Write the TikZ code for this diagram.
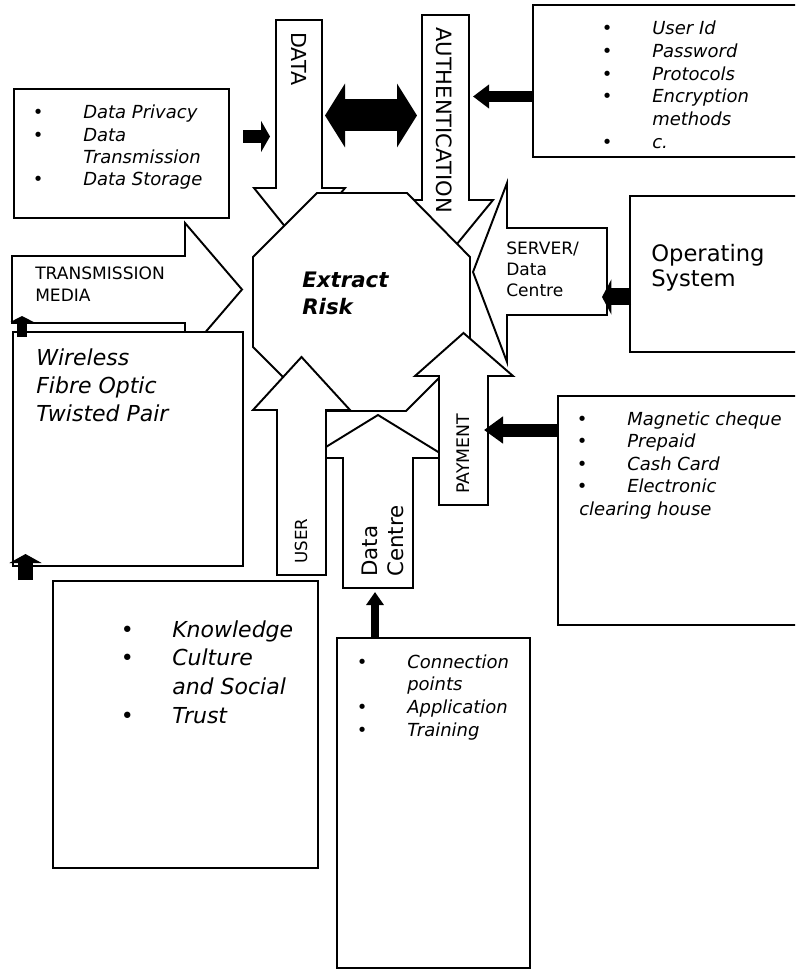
\documentclass[tikz,border=0pt]{standalone}
\usepackage{fontspec}
\setmainfont{DejaVu Sans}
\usetikzlibrary{arrows.meta}

% bullet that sits centred on the list's left edge
\newcommand\bul{\makebox[0pt]{\upshape\textbullet}}
\newenvironment{bullets}{\begin{tabular}[t]{@{}l@{\hspace{33.75pt}}l@{}}}{\end{tabular}}
\newenvironment{lines}{\begin{tabular}[t]{@{}l@{}}}{\end{tabular}}

\tikzset{
  outline/.style={draw=black, line width=1.45pt, line join=miter},
  blockarrow/.style={outline, fill=white},
  panel/.style={outline, fill=white},
  lbl/.style={inner sep=0pt, anchor=base west},
  pointer/.style n args={3}{draw=black, line width=#1,
    -{Triangle[length=#2, width=#3]}},
  twoway/.style n args={3}{draw=black, line width=#1,
    {Triangle[length=#2, width=#3]}-{Triangle[length=#2, width=#3]}},
}

\begin{document}
\begin{tikzpicture}[x=0.75pt, y=-0.75pt]
\clip (0,0) rectangle (795,969);
\fill[white] (0,0) rectangle (795,969);

% ---- block arrows lying under the octagon
\draw[blockarrow] (276,20) -- (322,20) -- (322,188) -- (345,188) -- (299,244)
  -- (254,188) -- (276,188) -- cycle;
\node[lbl, rotate=-90, font=\fontsize{15.5}{18}\selectfont] (dataLbl) at (291,32) {DATA};

\draw[blockarrow] (422,15) -- (469,15) -- (469,200) -- (493,200) -- (445.5,258)
  -- (398,200) -- (422,200) -- cycle;
\node[lbl, rotate=-90, font=\fontsize{15.8}{18}\selectfont] (authLbl) at (436,27) {AUTHENTICATION};

\draw[blockarrow] (12,256) -- (185,256) -- (185,223) -- (242,289.5) -- (185,356)
  -- (185,323) -- (12,323) -- cycle;
\node[lbl, font=\fontsize{12.8}{16.5}\selectfont] (transLbl) at (35,280)
  {\begin{lines}TRANSMISSION\\MEDIA\end{lines}};

% ---- text boxes
\path[panel] (14,89) rectangle (229,218);
\node[lbl, font=\fontsize{13.5}{16.75}\selectfont\itshape] (dpList) at (38,119)
  {\begin{bullets}\bul & Data Privacy\\ \bul & Data\\ & Transmission\\ \bul & Data Storage\end{bullets}};

\path[panel] (13,332) rectangle (243,566);
\node[lbl, font=\fontsize{16.5}{21}\selectfont\itshape] (mediaList) at (36,365)
  {\begin{lines}Wireless\\Fibre Optic\\Twisted Pair\end{lines}};

\path[panel] (533,5) rectangle (810,157);
\node[lbl, font=\fontsize{13.5}{17}\selectfont\itshape] (authList) at (607,35)
  {\begin{bullets}\bul & User Id\\ \bul & Password\\ \bul & Protocols\\ \bul & Encryption\\ & methods\\ \bul & c.\end{bullets}};

\path[panel] (630,196) rectangle (810,352);
\node[lbl, font=\fontsize{17}{18.75}\selectfont] (osLbl) at (651,262)
  {\begin{lines}Operating\\System\end{lines}};

\path[panel] (558,396) rectangle (810,625);
\node[lbl, font=\fontsize{13.5}{16.9}\selectfont\itshape] (payList) at (582,425)
  {\begin{bullets}\bul & Magnetic cheque\\ \bul & Prepaid\\ \bul & Cash Card\\ \bul & Electronic\\
   \multicolumn{2}{@{}l@{}}{\hspace*{-2.25pt}clearing house}\end{bullets}};

\path[panel] (53,581) rectangle (318,868);
\node[lbl, font=\fontsize{16.5}{21.5}\selectfont\itshape] (userList) at (127,637)
  {\begin{bullets}\bul & Knowledge\\ \bul & Culture\\ & and Social\\ \bul & Trust\end{bullets}};

\path[panel] (337,638) rectangle (530,968);
\node[lbl, font=\fontsize{13.5}{17}\selectfont\itshape] (dcList) at (362,668)
  {\begin{bullets}\bul & Connection\\ & points\\ \bul & Application\\ \bul & Training\end{bullets}};

% ---- central octagon
\draw[blockarrow] (317,193) -- (407,193) -- (470,257) -- (470,347) -- (406,411)
  -- (317,411) -- (253,347) -- (253,257) -- cycle;
\node[lbl, font=\fontsize{16}{20}\selectfont\bfseries\itshape] (riskLbl) at (302,288)
  {\begin{lines}Extract\\Risk\end{lines}};

% ---- block arrows lying over the octagon
\draw[blockarrow] (343,588) -- (343,458) -- (308,458) -- (378,415) -- (448,458)
  -- (413,458) -- (413,588) -- cycle;
\node[lbl, rotate=90, font=\fontsize{16}{19.5}\selectfont] (dcLbl) at (377,577)
  {\begin{lines}Data\\Centre\end{lines}};

\draw[blockarrow] (277,575) -- (277,410) -- (253,410) -- (301.5,357) -- (350,410)
  -- (326,410) -- (326,575) -- cycle;
\node[lbl, rotate=90, font=\fontsize{12.5}{15}\selectfont] (userLbl) at (307,564) {USER};

\draw[blockarrow] (439,505) -- (439,376) -- (415,376) -- (463.5,333) -- (513,376)
  -- (488,376) -- (488,505) -- cycle;
\node[lbl, rotate=90, font=\fontsize{13}{15}\selectfont] (payLbl) at (469,494) {PAYMENT};

\draw[blockarrow] (607,228) -- (507,228) -- (507,183) -- (473,272) -- (507,362)
  -- (507,315) -- (607,315) -- cycle;
\node[lbl, font=\fontsize{12.8}{15.4}\selectfont] (serverLbl) at (506,255)
  {\begin{lines}SERVER/\\Data\\Centre\end{lines}};

% ---- black pointers
\coordinate (dpOut) at (243,136.5);   \coordinate (dataIn) at (270,136.5);
\coordinate (authOut) at (533,96.5);  \coordinate (authIn) at (473,96.5);
\coordinate (osOut) at (631,297);     \coordinate (serverIn) at (602,297);
\coordinate (payOut) at (558,430);    \coordinate (payIn) at (484,430);
\coordinate (dcOut) at (375,638);     \coordinate (dcIn) at (375,592);
\coordinate (mediaOutA) at (22,337);  \coordinate (transIn) at (22,316);
\coordinate (mediaOutB) at (25.5,580);\coordinate (mediaIn) at (25.5,554);
\coordinate (bothL) at (325,115.5);   \coordinate (bothR) at (417,115.5);

\draw[pointer={9.75pt}{6.75pt}{23.25pt}] (dpOut) -- (dataIn);
\draw[pointer={8.25pt}{12pt}{17.25pt}] (authOut) -- (authIn);
\draw[pointer={12.75pt}{7pt}{26pt}] (osOut) -- (serverIn);
\draw[pointer={9.75pt}{14.25pt}{19.5pt}] (payOut) -- (payIn);
\draw[pointer={6pt}{9.75pt}{12.75pt}] (dcOut) -- (dcIn);
\draw[pointer={7.5pt}{4.5pt}{17.25pt}] (mediaOutA) -- (transIn);
\draw[pointer={11.25pt}{6.75pt}{24pt}] (mediaOutB) -- (mediaIn);
\draw[twoway={24pt}{15pt}{47.25pt}] (bothL) -- (bothR);
\end{tikzpicture}
\end{document}
